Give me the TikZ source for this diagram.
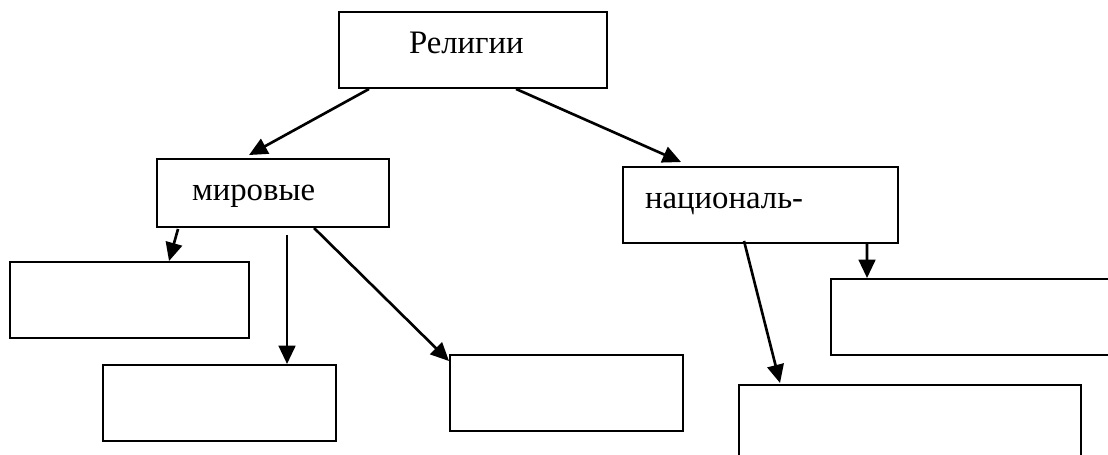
\documentclass[tikz,border=0pt]{standalone}
\usepackage{fontspec}
\setmainfont{Liberation Serif}
\usetikzlibrary{arrows.meta, calc}

\begin{document}
\begin{tikzpicture}[x=0.36pt, y=-0.36pt,
  box/.style={draw, line width=0.7pt, minimum height=27.36pt, inner ysep=0pt, font=\fontsize{11.8}{14}\selectfont},
  arr/.style={line width=0.95pt, -{Triangle[length=6.6pt, width=6pt]}}]
  \useasboundingbox[fill=white] (0,0) rectangle (1108,454);
  \clip (0,0) rectangle (1108,454);

  % Religions
  \node[box, text width=46.08pt, inner xsep=25.2pt, text height=8pt, text depth=5.84pt, align=left] (rel) at (473, 50) {Религии};

  % World and national
  \node[box, text width=58.32pt, inner xsep=12.6pt, text height=8pt, text depth=2.96pt, align=left, minimum height=24.48pt] (world) at (273, 193) {мировые};
  \node[box, text width=83.16pt, inner xsep=7.92pt, text height=8pt, text depth=5.84pt, align=left] (nat) at (760.5, 205) {националь-};

  % Empty boxes
  \node[box, minimum width=86.04pt] (w1) at (129.5, 300) {};
  \node[box, minimum width=83.88pt] (w2) at (219.5, 403) {};
  \node[box, minimum width=83.88pt] (w3) at (566.5, 393) {};
  \node[box, minimum width=104.04pt] (n1) at (975.5, 317) {};
  \node[box, minimum width=123.12pt] (n2) at (910, 423) {};

  % Arrows
  \draw[arr] ($(rel.south west)+(31,0)$) -- ($(world.north west)+(93,-3)$);
  \draw[arr] ($(rel.south west)+(178,0)$) -- ($(nat.north west)+(59,-4)$);
  \draw[arr] ($(world.south west)+(22,1)$) -- ($(w1.north west)+(160,0)$);
  \draw[arr] ($(world.south west)+(131,7)$) -- ($(w2.north west)+(185,0)$);
  \draw[arr] ($(world.south west)+(158,0)$) -- ($(w3.north west)+(0,7)$);
  \draw[arr] ($(nat.south west)+(122,-3)$) -- ($(n2.north west)+(42,-1)$);
  \draw[arr] ($(nat.south west)+(245,0)$) -- ($(n1.north west)+(37,0)$);
\end{tikzpicture}
\end{document}
